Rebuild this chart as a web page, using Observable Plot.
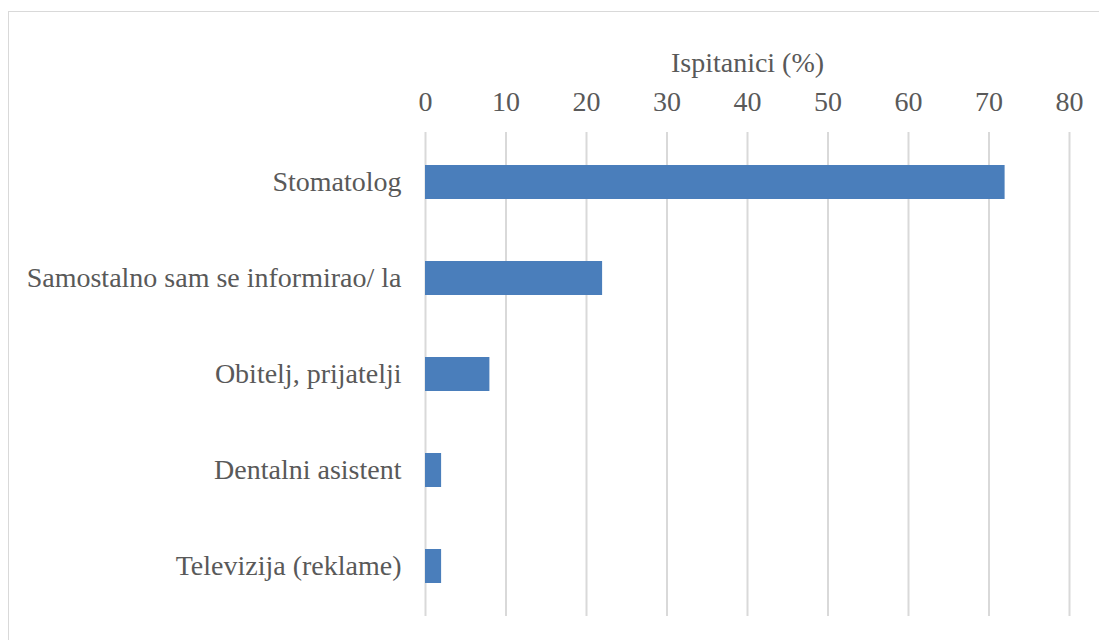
<!DOCTYPE html>
<html>
<head>
<meta charset="utf-8">
<script src="https://cdn.jsdelivr.net/npm/d3@7"></script>
<script src="https://cdn.jsdelivr.net/npm/@observablehq/plot@0.6"></script>
<style>
  html, body { margin: 0; padding: 0; background: #fff; }
  #wrap { position: relative; width: 1099px; height: 640px; overflow: hidden; }
  #frame { position: absolute; left: 8px; top: 11px; width: 1200px; height: 700px; border: 1.5px solid #d9d9d9; box-sizing: border-box; }
  #chart { position: absolute; left: 0; top: 0; }
  #chart svg, #chart svg text { font-family: "Liberation Serif", "Times New Roman", serif !important; }
</style>
</head>
<body>
<div id="wrap"><div id="frame"></div><div id="chart"></div></div>
<script>
const categories = [
  "Stomatolog",
  "Samostalno sam se informirao/ la",
  "Obitelj, prijatelji",
  "Dentalni asistent",
  "Televizija (reklame)"
];
const values = [72, 22, 8, 2, 2];
const xTicks = [0, 10, 20, 30, 40, 50, 60, 70, 80];
const axisLabel = "Ispitanici (%)";

const data = categories.map((c, i) => ({category: c, value: values[i]}));

const chart = Plot.plot({
  width: 1099,
  height: 640,
  marginLeft: 425,
  marginRight: 30,
  marginTop: 132,
  marginBottom: 24,
  style: "font-family: 'Liberation Serif', serif; font-size: 28px; color: #595959; background: transparent; overflow: visible;",
  x: {domain: [0, 80], ticks: xTicks, axis: "top", tickSize: 0, tickPadding: 22, label: null},
  y: {domain: categories, paddingInner: 0.65, paddingOuter: 0.325, tickSize: 0, tickPadding: 24, label: null},
  marks: [
    Plot.ruleX(xTicks, {stroke: "#d9d9d9", strokeWidth: 2}),
    Plot.barX(data, {x: "value", y: "category", fill: "#4a7ebb"}),
    Plot.text([axisLabel], {frameAnchor: "top", dy: -69, text: d => d, fill: "#595959", fontSize: 28, lineAnchor: "middle"})
  ]
});
document.getElementById("chart").appendChild(chart);
</script>
</body>
</html>
